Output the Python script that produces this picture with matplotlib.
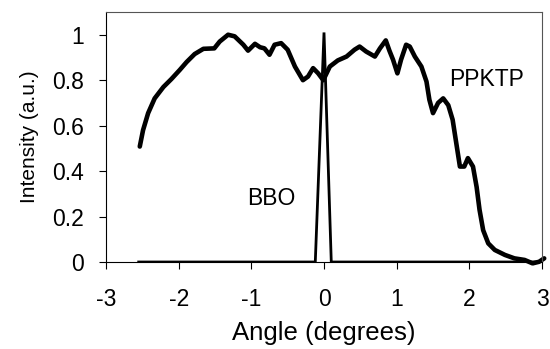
import matplotlib.pyplot as plt
import numpy as np

plt.rcParams['font.family'] = ['Liberation Sans', 'DejaVu Sans']

# PPKTP curve
ppktp_x = [-2.535, -2.49, -2.42, -2.33, -2.21, -2.10, -1.985, -1.89, -1.78, -1.66,
           -1.51, -1.435, -1.32, -1.23, -1.11, -1.045, -0.95, -0.88, -0.82, -0.75,
           -0.68, -0.59, -0.50, -0.40, -0.29, -0.22, -0.15, -0.08, -0.01, 0.08,
           0.19, 0.31, 0.42, 0.49, 0.58, 0.70, 0.77, 0.85, 0.90, 0.95,
           1.01, 1.06, 1.13, 1.18, 1.25, 1.34, 1.41, 1.45, 1.50, 1.57,
           1.64, 1.71, 1.77, 1.82, 1.87, 1.93, 1.98, 2.05, 2.10, 2.14,
           2.19, 2.26, 2.35, 2.49, 2.62, 2.76, 2.87, 2.96, 3.03]
ppktp_y = [0.508, 0.58, 0.655, 0.72, 0.77, 0.805, 0.845, 0.88, 0.915, 0.938,
           0.94, 0.97, 1.00, 0.993, 0.956, 0.93, 0.96, 0.945, 0.94, 0.912,
           0.956, 0.963, 0.934, 0.86, 0.80, 0.816, 0.853, 0.83, 0.80, 0.86,
           0.887, 0.904, 0.934, 0.948, 0.926, 0.904, 0.94, 0.975, 0.93, 0.89,
           0.83, 0.89, 0.956, 0.948, 0.904, 0.86, 0.794, 0.714, 0.655, 0.70,
           0.72, 0.69, 0.626, 0.523, 0.42, 0.42, 0.457, 0.42, 0.33, 0.23,
           0.14, 0.082, 0.053, 0.031, 0.016, 0.009, -0.006, 0.001, 0.016]

# BBO peak
bbo_x = [-2.55, -0.12, 0.0, 0.10, 3.0]
bbo_y = [0.0, 0.0, 1.01, 0.0, 0.0]

fig = plt.figure(figsize=(5.5, 3.49), dpi=100)
ax = fig.add_axes([0.1927, 0.2493, 0.7928, 0.7163])

ax.plot(bbo_x, bbo_y, color='black', lw=2.0, solid_joinstyle='miter')
ax.plot(ppktp_x, ppktp_y, color='black', lw=3.3, solid_capstyle='round',
        solid_joinstyle='round', clip_on=False)

ax.set_xlim(-3, 3)
ax.set_ylim(0, 1.1)
ax.set_xticks([-3, -2, -1, 0, 1, 2, 3])
ax.set_xticklabels(['-3', '-2', '-1', '0', '1', '2', '3'])
ax.set_yticks([0, 0.2, 0.4, 0.6, 0.8, 1])
ax.set_yticklabels(['0', '0.2', '0.4', '0.6', '0.8', '1'])
ax.tick_params(axis='both', direction='out', length=5, width=0.8, labelsize=16.5)
ax.tick_params(axis='x', pad=14)
ax.tick_params(axis='y', pad=11)

for s in ax.spines.values():
    s.set_linewidth(0.8)
ax.spines['top'].set_color('#555555')
ax.spines['right'].set_color('#555555')

ax.set_xlabel('Angle (degrees)', fontsize=18.5, labelpad=7)
ax.set_ylabel('Intensity (a.u.)', fontsize=15, labelpad=9)

ax.text(-0.73, 0.28, 'BBO', fontsize=16.5, ha='center', va='center')
ax.text(2.24, 0.805, 'PPKTP', fontsize=16.5, ha='center', va='center')

fig.savefig('out.png', dpi=100)
